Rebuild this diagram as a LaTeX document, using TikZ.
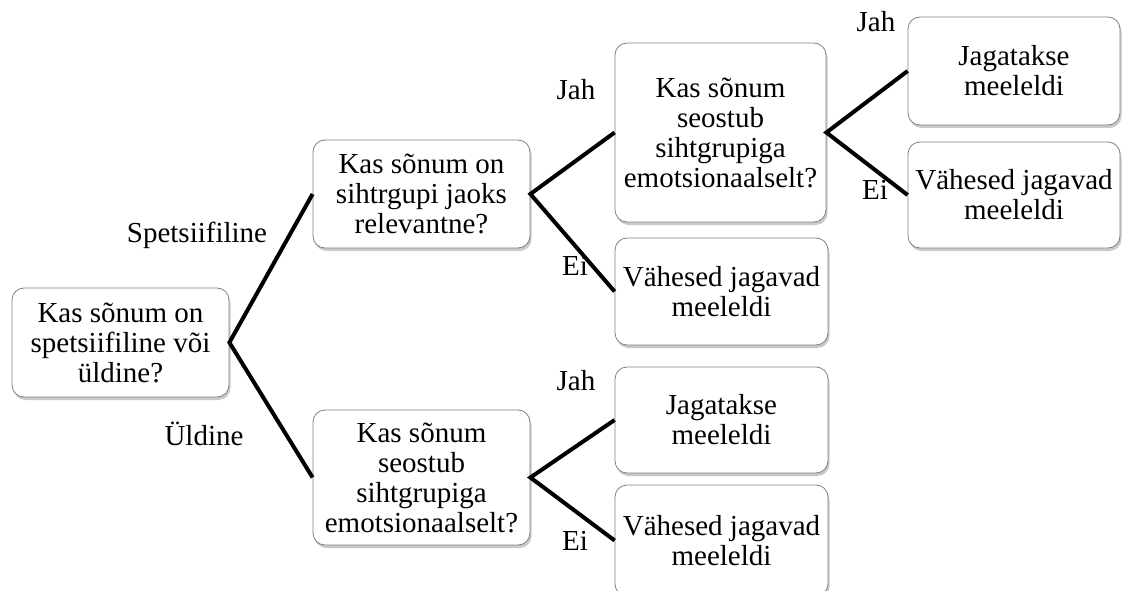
\documentclass[tikz,border=0pt]{standalone}
\usepackage{fontspec}
\setmainfont{Liberation Serif}
\usetikzlibrary{shadows}
\begin{document}
\begin{tikzpicture}[x=1pt,y=-1pt,
  txt/.style={font=\fontsize{29}{30}\selectfont},
  box/.style={txt, draw=black!50, line width=0.8pt, fill=white,
    rounded corners=12pt, align=center, inner sep=0pt,
    drop shadow={shadow xshift=1.5pt, shadow yshift=-3pt, opacity=0.3, fill=black!70}},
  lbl/.style={txt, inner sep=0pt, anchor=base},
  branch/.style={line width=4pt, line join=miter}]
\clip (0,0) rectangle (1136,591);

% decision and outcome boxes
\node[box, minimum width=217pt, minimum height=109pt] (root) at (120.5,342.5)
  {Kas sõnum on\\spetsiifiline või\\üldine?};
\node[box, minimum width=217pt, minimum height=108pt] (rel) at (421.5,194)
  {Kas sõnum on\\sihtrgupi jaoks\\relevantne?};
\node[box, minimum width=217pt, minimum height=135pt] (emoB) at (421.5,477.5)
  {Kas sõnum\\seostub\\sihtgrupiga\\emotsionaalselt?};
\node[box, minimum width=211pt, minimum height=179pt] (emoA) at (720.5,132.5)
  {Kas sõnum\\seostub\\sihtgrupiga\\emotsionaalselt?};
\node[box, minimum width=213pt, minimum height=107pt] (fewA) at (721.5,291.5)
  {Vähesed jagavad\\meeleldi};
\node[box, minimum width=213pt, minimum height=106pt] (shareB) at (721.5,420)
  {Jagatakse\\meeleldi};
\node[box, minimum width=213pt, minimum height=111pt] (fewB) at (721.5,540.5)
  {Vähesed jagavad\\meeleldi};
\node[box, minimum width=212pt, minimum height=108pt] (shareA) at (1014,71)
  {Jagatakse\\meeleldi};
\node[box, minimum width=212pt, minimum height=106pt] (fewC) at (1014,195)
  {Vähesed jagavad\\meeleldi};

% branches
\draw[branch] (rel.west) -- (root.east) -- (emoB.west);
\draw[branch] (emoA.west) -- (rel.east) -- (fewA.west);
\draw[branch] (shareA.west) -- (emoA.east) -- (fewC.west);
\draw[branch] (shareB.west) -- (emoB.east) -- (fewB.west);

% branch labels
\node[lbl] (l1) at (197,243) {Spetsiifiline};
\node[lbl] (l2) at (204,445) {Üldine};
\node[lbl] (l3) at (576,100) {Jah};
\node[lbl] (l4) at (575,275) {Ei};
\node[lbl] (l5) at (876,32) {Jah};
\node[lbl] (l6) at (875,200) {Ei};
\node[lbl] (l7) at (576,390) {Jah};
\node[lbl] (l8) at (575,550) {Ei};
\end{tikzpicture}
\end{document}
